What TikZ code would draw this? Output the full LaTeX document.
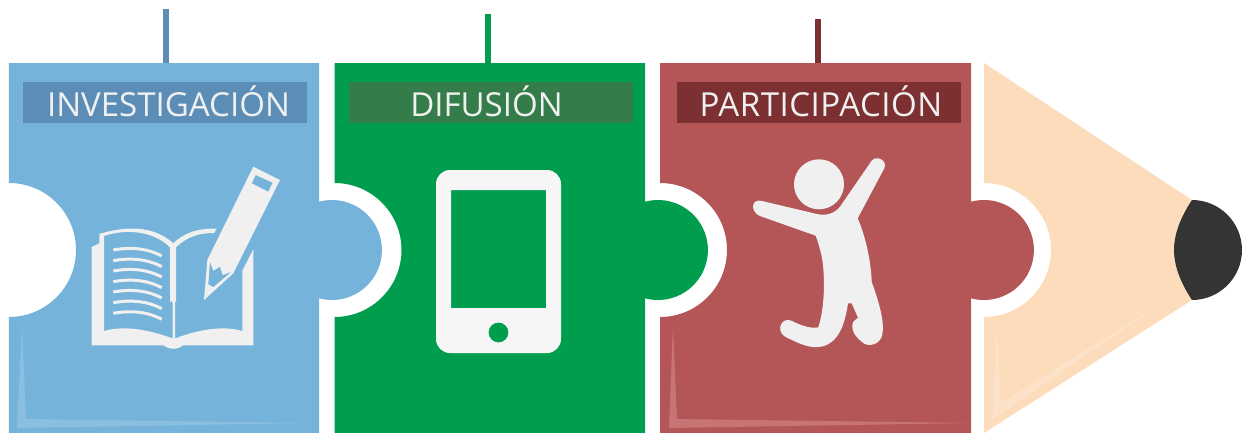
\documentclass[tikz,border=0pt]{standalone}
\usepackage{fontspec}
\setmainfont{Open Sans}
\definecolor{bluepiece}{HTML}{75B3DB}
\definecolor{bluebar}{HTML}{5B8DB6}
\definecolor{bluelight}{HTML}{8ABFE0}
\definecolor{greenpiece}{HTML}{009D4E}
\definecolor{greenbar}{HTML}{347D4B}
\definecolor{redpiece}{HTML}{B45657}
\definecolor{redbar}{HTML}{7D3032}
\definecolor{redlight}{HTML}{C67475}
\definecolor{woodpiece}{HTML}{FCDCBA}
\definecolor{woodlight}{HTML}{FCE2C8}
\definecolor{graphite}{HTML}{343434}
\definecolor{iconwhite}{HTML}{F0F0F0}
\tikzset{
  labeltext/.style={text=iconwhite,font=\fontsize{9.4pt}{10pt}\selectfont,anchor=base,inner sep=0pt},
  bookline/.style={draw=iconwhite,line width=0.03cm},
}
\begin{document}
\begin{tikzpicture}[x=0.01cm,y=-0.01cm]
\useasboundingbox (0,0) rectangle (1244,433);
% top bars
\fill[bluebar] (163,9) rectangle (169,63);
\fill[greenpiece] (485,14) rectangle (491,63);
\fill[redbar] (815,19) rectangle (821,63);
% pieces
\foreach \x/\w/\col in {9/310/bluepiece,334.5/310.5/greenpiece,660/311/redpiece}{
\fill[\col] (\x,63) -- ++(\w,0) -- ++(0,138.7) arc[start angle=-105,end angle=105,radius=50]
  -- (\x+\w,433) -- (\x,433) -- (\x,317) arc[start angle=90,end angle=-90,radius=67] -- cycle;
}
% pencil tip
\fill[woodpiece] (984,63) -- (1192,200) -- (1192,300) -- (984,433) -- (984,317)
  arc[start angle=90,end angle=-90,radius=67] -- cycle;
\fill[graphite] (1192,200) arc[start angle=-90,end angle=90,radius=50]
  .. controls (1180,282) and (1174,265) .. (1174,250) .. controls (1174,235) and (1180,218) .. (1192,200) -- cycle;
% highlights
\fill[bluelight] (22,326) -- (26,419) -- (309,423) -- (17,428) -- cycle;
\fill[redlight] (673,326) -- (677,419) -- (971,423) -- (669,428) -- cycle;
\fill[woodlight] (997,325) -- (1001,403) -- (1171,297) -- (992,420) -- cycle;
% labels
\fill[bluebar] (23,82) rectangle (307,123);
\fill[greenbar] (349,82) rectangle (633,123);
\fill[redbar] (677,82) rectangle (961,123);
\node[labeltext] (investigacion) at (168.5,116) {INVESTIGACIÓN};
\node[labeltext] (difusion) at (486.5,116) {DIFUSIÓN};
\node[labeltext] (participacion) at (821,116) {\addfontfeature{LetterSpace=1.6}PARTICIPACIÓN};
% book
\fill[iconwhite,even odd rule] (91.7,345.3) -- (91.7,247) -- (99.3,243.3) -- (99.3,234)
  .. controls (125,226) and (153,225) .. (173.3,243.3) .. controls (185,232) and (198,228.5) .. (216.7,228.5)
  -- (214.3,233) .. controls (198,233) and (187,237) .. (176,247.3) -- (176,302) -- (175,300) -- (175,338.5)
  .. controls (197,330) and (222,325) .. (242.3,331) -- (242.3,270.7) -- (253.3,249.3) -- (253.3,345.3)
  -- (183.3,345.3) .. controls (178,350) and (169,350) .. (163.3,345.3) -- cycle
  (104,331) -- (104,236) .. controls (125,229) and (152,230) .. (170,247.3) -- (170,303) -- (171,300.5)
  -- (172.7,303) -- (172.7,338.5) .. controls (150,330) and (125,325) .. (104,331) -- cycle;
\foreach \y in {250,260.7,271,281.7,292,302.7,313.3}{
\draw[bookline] (113.3,\y) .. controls (130,\y-3) and (147,\y-2) .. (161.7,\y+6);
}
% pencil
\fill[iconwhite,even odd rule] (253.3,166.7) -- (280,180) -- (233.3,273.3) -- (204,300) -- (207.3,260) -- cycle
  (255.7,175) -- (272.7,182.7) -- (268.3,191.7) -- (251.7,183.3) -- cycle
  (210,261.7) -- (213.3,270.7) -- (220,266.7) -- (222.7,275) -- (231.7,271.7) -- (213.3,287.3) -- (208.3,284.3) -- cycle;
% tablet
\fill[iconwhite!60!white,even odd rule] (436,184) arc[start angle=180,end angle=270,radius=14] -- (547,170)
  arc[start angle=270,end angle=360,radius=14] -- (561,339) arc[start angle=0,end angle=90,radius=14]
  -- (450,353) arc[start angle=90,end angle=180,radius=14] -- cycle
  (451,190) rectangle (546,308)
  (498.5,332.5) circle[radius=10];
% dancer
\fill[iconwhite] (819,184.3) circle[radius=25];
\fill[iconwhite] (762,201) -- (816.7,214) .. controls (826,216) and (834,214) .. (840,206.7) -- (871.7,160.7)
  .. controls (876,155) and (888,160) .. (884.3,168.3) -- (857.7,218.3) .. controls (865,235) and (871,260) .. (871.7,281.7)
  .. controls (878,300) and (884,318) .. (882.7,332) .. controls (882,345) and (868,348) .. (862,342)
  .. controls (855,336) and (850,330) .. (853.3,321.7) -- (858,317.7) -- (851.7,303.3) -- (848,303.3)
  .. controls (845,325) and (838,343) .. (822,346.5) .. controls (810,349) and (800,344) .. (785,336.7)
  .. controls (775,330) and (782,316) .. (792,321) .. controls (802,326) and (812,329) .. (818.3,327.3)
  .. controls (824,310) and (825,285) .. (823,265) .. controls (822,255) and (819,245) .. (815.7,235.7)
  -- (760,216) .. controls (750,212) and (751,198) .. (762,201) -- cycle;
\end{tikzpicture}
\end{document}
